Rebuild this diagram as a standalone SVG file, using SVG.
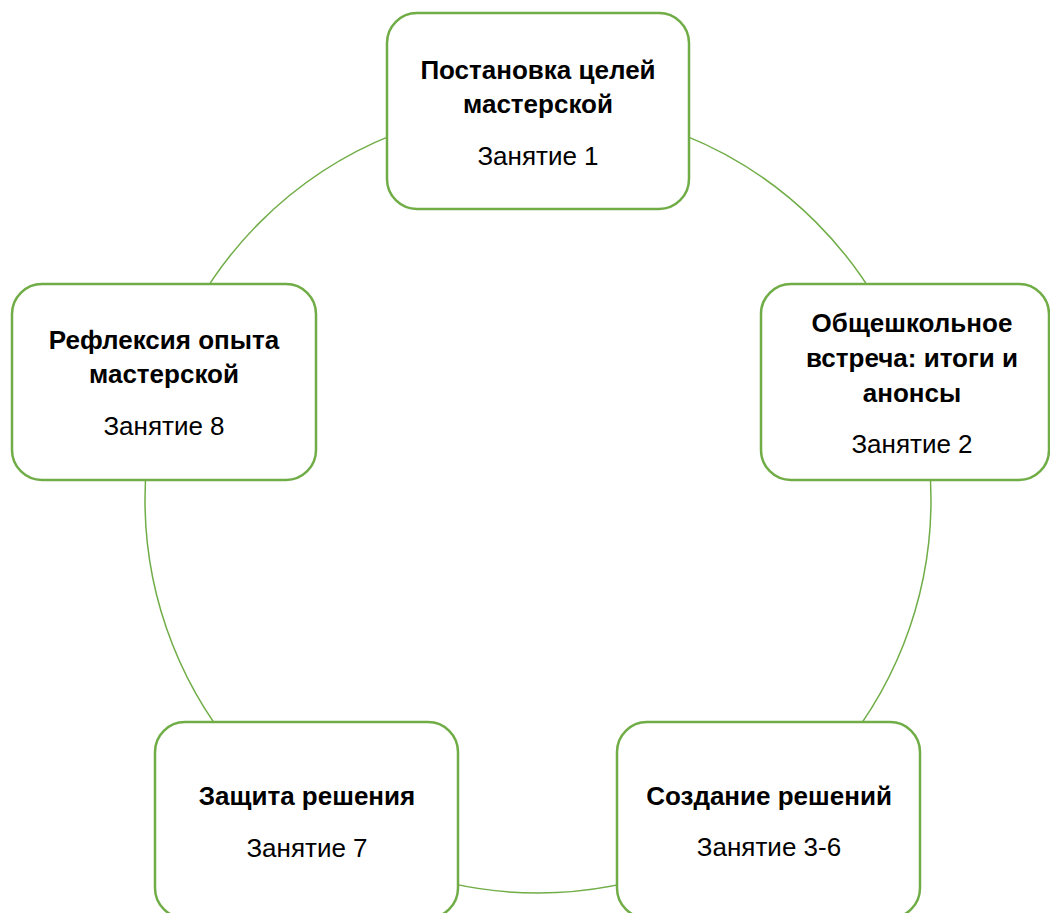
<svg xmlns="http://www.w3.org/2000/svg" width="1050" height="913" viewBox="0 0 1050 913">
<style>
.box{fill:#ffffff;stroke:#70AD47;stroke-width:2.5}
.ring{fill:none;stroke:#70AD47;stroke-width:1.5}
.t{font-family:"Liberation Sans",Arial,sans-serif;font-size:26px;text-anchor:middle;fill:#000}
.b{font-weight:bold}
</style>
<rect width="1050" height="913" fill="#ffffff"/>
<g id="connectors">
<circle class="ring" cx="538" cy="500" r="393"/>
</g>
<g id="node1">
<rect class="box" x="387" y="13" width="302" height="196" rx="30"/>
<text class="t b" x="538" y="79">Постановка целей</text>
<text class="t b" x="538" y="113">мастерской</text>
<text class="t" x="538" y="165">Занятие 1</text>
</g>
<g id="node2">
<rect class="box" x="761" y="284" width="288" height="196" rx="30"/>
<text class="t b" x="912" y="332">Общешкольное</text>
<text class="t b" x="912" y="367">встреча: итоги и</text>
<text class="t b" x="912" y="402">анонсы</text>
<text class="t" x="912" y="453">Занятие 2</text>
</g>
<g id="node3">
<rect class="box" x="617" y="722" width="303" height="196" rx="30"/>
<text class="t b" x="769" y="805">Создание решений</text>
<text class="t" x="769" y="856">Занятие 3-6</text>
</g>
<g id="node7">
<rect class="box" x="155" y="722" width="303" height="196" rx="30"/>
<text class="t b" x="307" y="805">Защита решения</text>
<text class="t" x="307" y="857">Занятие 7</text>
</g>
<g id="node8">
<rect class="box" x="12" y="284" width="304" height="196" rx="30"/>
<text class="t b" x="164" y="349">Рефлексия опыта</text>
<text class="t b" x="164" y="383">мастерской</text>
<text class="t" x="164" y="435">Занятие 8</text>
</g>
</svg>
